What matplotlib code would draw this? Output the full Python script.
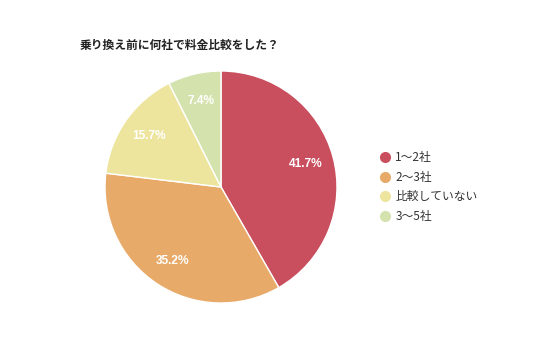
import matplotlib
matplotlib.use("Agg")
import matplotlib.pyplot as plt
from matplotlib.lines import Line2D

plt.rcParams['font.family'] = ['Noto Sans CJK JP', 'DejaVu Sans']

categories = ["1〜2社", "2〜3社", "比較していない", "3〜5社"]
values = [41.7, 35.2, 15.7, 7.4]
colors = ["#C94F5E", "#E8AA68", "#EDE59E", "#D4E2AE"]
title = "乗り換え前に何社で料金比較をした？"

W, H = 536, 357
fig = plt.figure(figsize=(W/100, H/100), dpi=100)
cx, cy, r = 221, 187, 116
ax = fig.add_axes([(cx - r)/W, 1 - (cy + r)/H, 2*r/W, 2*r/H])
wedges, texts, autotexts = ax.pie(
    values, colors=colors, startangle=90, counterclock=False,
    autopct=lambda p: f"{p:.1f}%", pctdistance=0.76,
    wedgeprops=dict(edgecolor="white", linewidth=1),
    textprops=dict(color="white", fontsize=8.6, fontweight="bold",
                   family=['Liberation Sans', 'DejaVu Sans']))
ax.set_xlim(-1, 1); ax.set_ylim(-1, 1)
ax.set_aspect('equal')

fig.text(80/W, 1 - 45/H, title, fontsize=8.5, fontweight="bold", va="center", ha="left", color="#222222")

handles = [Line2D([], [], marker='o', linestyle='none', markersize=8,
                  markerfacecolor=c, markeredgecolor='none') for c in colors]
leg = fig.legend(handles, categories, loc="center left", bbox_to_anchor=(374/W, 1 - 187/H),
                 frameon=False, fontsize=8.5, handlelength=1.0,
                 labelspacing=0.55, handletextpad=0.4, borderaxespad=0)
for t in leg.get_texts():
    t.set_color("#333333")
fig.savefig("out.png", dpi=100)
